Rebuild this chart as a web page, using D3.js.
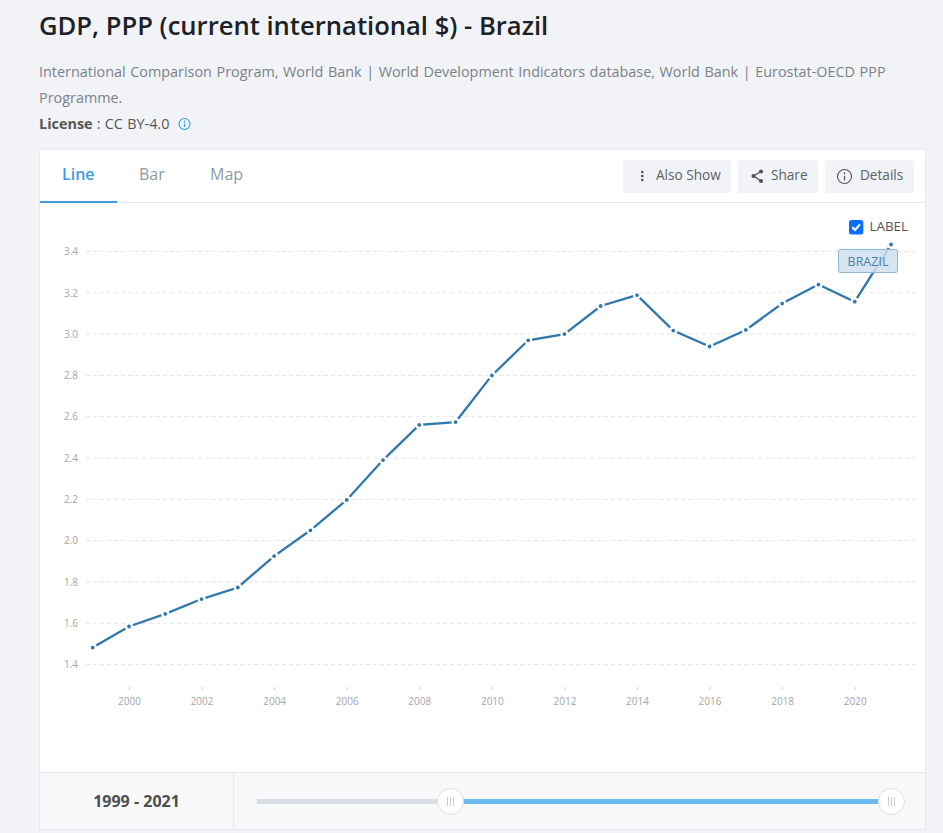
<!DOCTYPE html>
<html>
<head>
<meta charset="utf-8">
<script src="https://cdn.jsdelivr.net/npm/d3@7"></script>
<style>
    html, body { margin: 0; padding: 0; background: #f1f3f7; overflow: hidden; }
    text { font-family: "Open Sans", sans-serif; }
    .y-axis text, .x-axis text { font-size: 10px; fill: #a6a6a6; }
</style>
</head>
<body>
<svg id="page" width="943" height="833"></svg>
<script>
// Data
const years = [1999, 2000, 2001, 2002, 2003, 2004, 2005, 2006, 2007, 2008, 2009, 2010,
    2011, 2012, 2013, 2014, 2015, 2016, 2017, 2018, 2019, 2020, 2021];
const gdpValues = [1.482, 1.584, 1.645, 1.717, 1.773, 1.925, 2.05, 2.197, 2.39, 2.56, 2.574, 2.80,
    2.97, 3.0, 3.136, 3.189, 3.017, 2.94, 3.02, 3.148, 3.24, 3.157, 3.434];
const yTicks = [1.4, 1.6, 1.8, 2.0, 2.2, 2.4, 2.6, 2.8, 3.0, 3.2, 3.4];
const xTicks = [2000, 2002, 2004, 2006, 2008, 2010, 2012, 2014, 2016, 2018, 2020];
const tabLabels = ['Line', 'Bar', 'Map'];
const buttonLabels = ['Also Show', 'Share', 'Details'];

const svg = d3.select('#page');

// Scales
const xScale = d3.scaleLinear().domain([2000, 2020]).range([129, 854.7]);
const yScale = d3.scaleLinear().domain([1.4, 3.4]).range([664.5, 251.5]);

// Header
svg.append('text').attr('x', 39).attr('y', 35)
    .style('font-size', '25.6px').style('font-weight', 600).style('fill', '#1b2126')
    .text('GDP, PPP (current international $) - Brazil');

svg.append('text').attr('x', 39).attr('y', 77)
    .style('font-size', '14.4px').style('word-spacing', '0.85px').style('fill', '#7b8288')
    .text('International Comparison Program, World Bank | World Development Indicators database, World Bank | Eurostat-OECD PPP');
svg.append('text').attr('x', 39).attr('y', 103)
    .style('font-size', '14.4px').style('fill', '#7b8288')
    .text('Programme.');

const license = svg.append('text').attr('x', 39).attr('y', 129)
    .style('font-size', '14.4px').style('word-spacing', '0.5px').style('fill', '#555');
license.append('tspan').style('font-weight', 700).text('License');
license.append('tspan').text(' : CC BY-4.0');

// little info icon
function infoIcon(cx, cy, r, color) {
    const g = svg.append('g').style('fill', 'none').style('stroke', color);
    g.append('circle').attr('cx', cx).attr('cy', cy).attr('r', r).style('stroke-width', 1.1);
    g.append('line').attr('x1', cx).attr('x2', cx).attr('y1', cy - r * 0.1).attr('y2', cy + r * 0.55).style('stroke-width', 1.2);
    g.append('line').attr('x1', cx).attr('x2', cx).attr('y1', cy - r * 0.6).attr('y2', cy - r * 0.3).style('stroke-width', 1.2);
}
infoIcon(184.5, 124, 5.5, '#2f9be8');

// Panel
svg.append('rect').attr('x', 39.5).attr('y', 149.5).attr('width', 886).attr('height', 680)
    .style('fill', '#fff').style('stroke', '#e6e8ec');
svg.append('line').attr('x1', 40).attr('x2', 925).attr('y1', 202.5).attr('y2', 202.5)
    .style('stroke', '#e6e8ec');

// Tabs
svg.selectAll('.tab')
    .data(tabLabels)
    .enter()
    .append('text')
    .attr('class', 'tab')
    .attr('x', (d, i) => [62, 139, 210][i])
    .attr('y', 180)
    .style('font-size', '16px')
    .style('font-weight', (d, i) => (i === 0 ? 600 : 400))
    .style('fill', (d, i) => (i === 0 ? '#3d9be0' : '#8a9ca5'))
    .text(d => d);
svg.append('rect').attr('x', 40).attr('y', 201).attr('width', 77).attr('height', 2).style('fill', '#3d9be0');

// Buttons
const buttonBoxes = [[623, 108], [738, 80], [825, 89]];
const buttonTextX = [656, 771, 860];
svg.selectAll('.btn')
    .data(buttonLabels)
    .enter()
    .append('rect')
    .attr('class', 'btn')
    .attr('x', (d, i) => buttonBoxes[i][0])
    .attr('y', 160)
    .attr('width', (d, i) => buttonBoxes[i][1])
    .attr('height', 33)
    .attr('rx', 2)
    .style('fill', '#f1f3f6');
svg.selectAll('.btn-text')
    .data(buttonLabels)
    .enter()
    .append('text')
    .attr('class', 'btn-text')
    .attr('x', (d, i) => buttonTextX[i])
    .attr('y', 180)
    .style('font-size', '13.6px')
    .style('fill', '#5c6268')
    .text(d => d);

// Also show dots
[172, 176, 180].forEach(y => {
    svg.append('circle').attr('cx', 642.3).attr('cy', y).attr('r', 1.3).style('fill', '#555');
});
// Share icon
svg.append('path').attr('d', 'M761 171.5 L753.5 176 L761 181')
    .style('fill', 'none').style('stroke', '#555').style('stroke-width', 1.3);
[[761, 171.5], [753.5, 176], [761, 181]].forEach(p => {
    svg.append('circle').attr('cx', p[0]).attr('cy', p[1]).attr('r', 2.1).style('fill', '#555');
});
infoIcon(844.5, 176.5, 7, '#555');

// Grid lines
svg.append('g')
    .selectAll('line')
    .data(yTicks)
    .enter()
    .append('line')
    .attr('x1', 86)
    .attr('x2', 915)
    .attr('y1', d => yScale(d))
    .attr('y2', d => yScale(d))
    .style('stroke', '#e4e4e4')
    .style('stroke-dasharray', '4 3');

// Axes
const yAxis = d3.axisLeft(yScale)
    .tickValues(yTicks)
    .tickFormat(d3.format('.1f'))
    .tickSize(0)
    .tickPadding(0);
const yAxisDraw = svg.append('g')
    .attr('class', 'y-axis')
    .attr('transform', 'translate(78, 0)')
    .call(yAxis);
yAxisDraw.select('.domain').remove();

const xAxis = d3.axisBottom(xScale)
    .tickValues(xTicks)
    .tickFormat(d3.format('d'))
    .tickSize(3)
    .tickPadding(8);
const xAxisDraw = svg.append('g')
    .attr('class', 'x-axis')
    .attr('transform', 'translate(0, 687)')
    .call(xAxis);
xAxisDraw.select('.domain').remove();
xAxisDraw.selectAll('line').style('stroke', '#ccc');

// Line
const series = years.map((d, i) => ({year: d, value: gdpValues[i]}));
const line = d3.line().x(d => xScale(d.year)).y(d => yScale(d.value));

svg.append('path')
    .datum(series)
    .attr('d', line)
    .style('fill', 'none')
    .style('stroke', '#2e78ad')
    .style('stroke-width', 2.3);

svg.append('g')
    .selectAll('circle')
    .data(series)
    .enter()
    .append('circle')
    .attr('cx', d => xScale(d.year))
    .attr('cy', d => yScale(d.value))
    .attr('r', 3)
    .style('fill', '#2e78ad')
    .style('stroke', '#fff')
    .style('stroke-width', 2.2);

// Label checkbox
svg.append('rect').attr('x', 849).attr('y', 220).attr('width', 14.3).attr('height', 14.5).attr('rx', 2.5)
    .style('fill', '#0d6efd');
svg.append('path').attr('d', 'M852.3 227.2 L855 230 L860 224.3')
    .style('fill', 'none').style('stroke', '#fff').style('stroke-width', 2);
svg.append('text').attr('x', 869.5).attr('y', 231)
    .style('font-size', '13.4px').style('fill', '#555').text('LABEL');

// Series tag, sits on top of the line
svg.append('rect').attr('x', 838.5).attr('y', 249.5).attr('width', 59).attr('height', 23).attr('rx', 2)
    .style('fill', '#cfe0ee').style('fill-opacity', 0.85).style('stroke', '#8db7d6');
svg.append('text').attr('x', 868).attr('y', 266).attr('text-anchor', 'middle')
    .style('font-size', '12.5px').style('fill', '#4d80a8').text('BRAZIL');

// Footer
svg.append('rect').attr('x', 40).attr('y', 772.5).attr('width', 885).attr('height', 56.5)
    .style('fill', '#f7f8fa');
svg.append('line').attr('x1', 40).attr('x2', 925).attr('y1', 772.5).attr('y2', 772.5).style('stroke', '#e6e8ec');
svg.append('line').attr('x1', 233.5).attr('x2', 233.5).attr('y1', 773).attr('y2', 829).style('stroke', '#e6e8ec');
svg.append('text').attr('x', 136.5).attr('y', 807).attr('text-anchor', 'middle')
    .style('font-size', '16px').style('font-weight', 700).style('fill', '#4f4f4f')
    .text(`${d3.min(years)} - ${d3.max(years)}`);

// Slider
svg.append('rect').attr('x', 257).attr('y', 799).attr('width', 194).attr('height', 5).style('fill', '#d9dee5');
svg.append('rect').attr('x', 451).attr('y', 799).attr('width', 441).attr('height', 5).style('fill', '#6bbbee');
[450.5, 891.5].forEach(cx => {
    svg.append('circle').attr('cx', cx).attr('cy', 801.5).attr('r', 13)
        .style('fill', '#fff').style('stroke', '#dcdfe3');
    [-3, 0, 3].forEach(dx => {
        svg.append('line').attr('x1', cx + dx).attr('x2', cx + dx).attr('y1', 797).attr('y2', 806)
            .style('stroke', '#c9cdd2');
    });
});
</script>
</body>
</html>
